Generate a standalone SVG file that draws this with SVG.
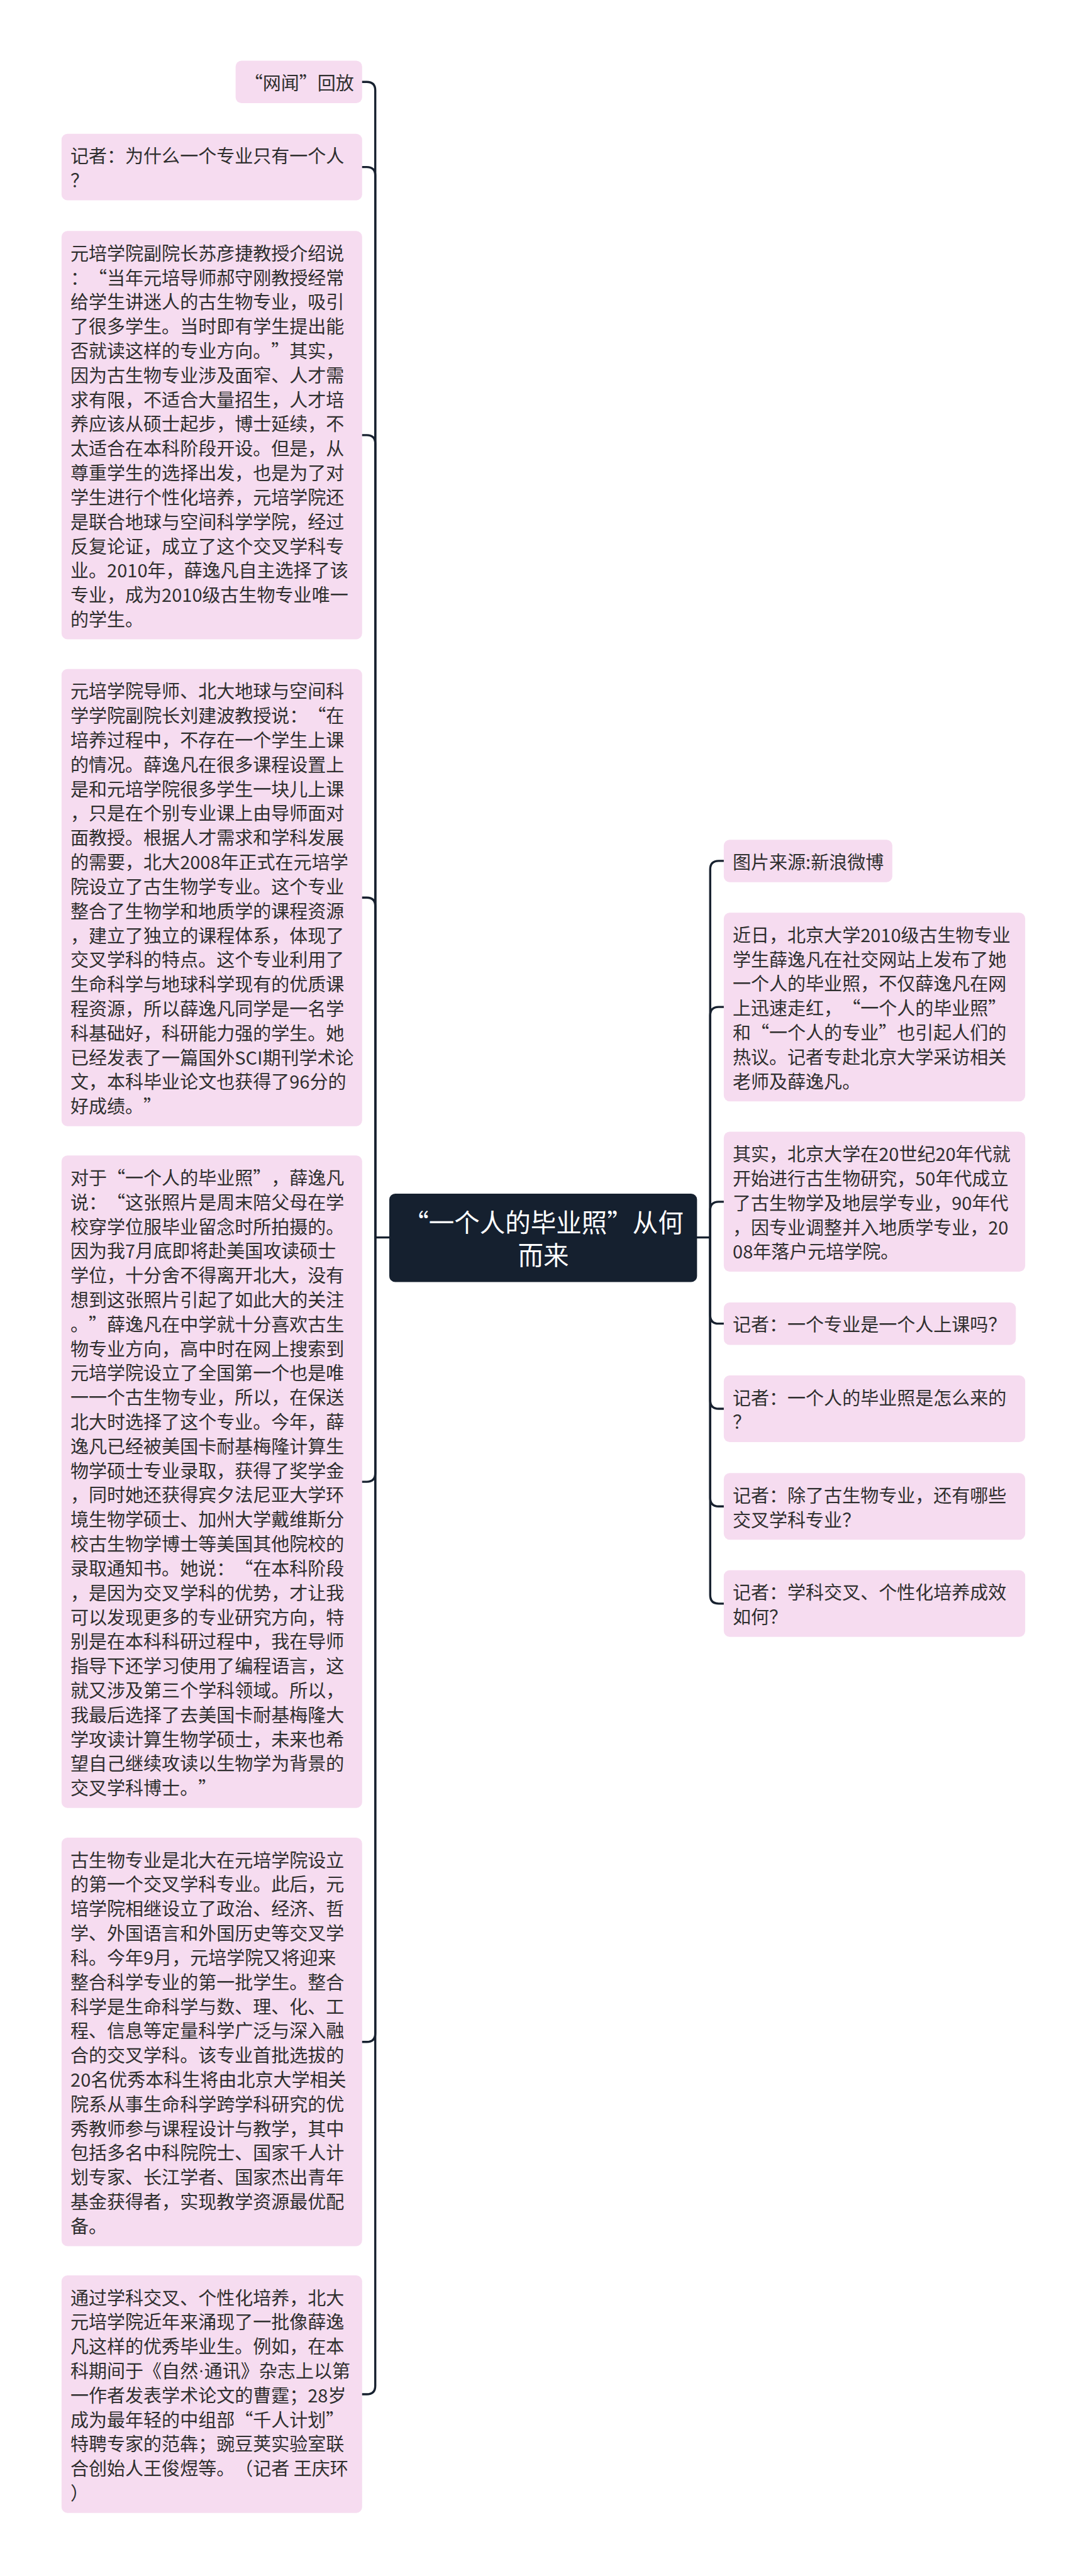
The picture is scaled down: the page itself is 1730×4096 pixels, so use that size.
<svg xmlns="http://www.w3.org/2000/svg" width="1730" height="4096" viewBox="0 0 1730 4096">
<style>
.nb{fill:#f6dcf0}
.t{font-family:"Noto Sans CJK SC","Noto Sans",sans-serif;font-size:43px;fill:#2f2f2f;dominant-baseline:central;text-spacing-trim:space-all}
.ct{font-family:"Noto Sans CJK SC","Noto Sans",sans-serif;font-size:60px;fill:#ffffff;dominant-baseline:central;text-anchor:middle;text-spacing-trim:space-all}
.q{font-feature-settings:"fwid" 1}
.d{font-family:"Liberation Sans",sans-serif}
.c{fill:none;stroke:#17212f;stroke-width:5;stroke-linecap:round}
</style>
<rect width="1730" height="4096" fill="#ffffff"/>
<g transform="scale(0.675)">
<g id="connectors">
<path class="c" d="M884,2915 H1673"/>
<path class="c" d="M853,193 H864 Q884,193 884,213 V2915"/>
<path class="c" d="M853,393.5 H864 Q884,393.5 884,413.5 V2915"/>
<path class="c" d="M853,1025 H864 Q884,1025 884,1045 V2915"/>
<path class="c" d="M853,2114.5 H864 Q884,2114.5 884,2134.5 V2915"/>
<path class="c" d="M853,3490.5 H864 Q884,3490.5 884,3470.5 V2915"/>
<path class="c" d="M853,4810 H864 Q884,4810 884,4790 V2915"/>
<path class="c" d="M853,5640 H864 Q884,5640 884,5620 V2915"/>
<path class="c" d="M1705,2028 H1693 Q1673,2028 1673,2048 V2915"/>
<path class="c" d="M1705,2372 H1693 Q1673,2372 1673,2392 V2915"/>
<path class="c" d="M1705,2831 H1693 Q1673,2831 1673,2851 V2915"/>
<path class="c" d="M1705,3118 H1693 Q1673,3118 1673,3098 V2915"/>
<path class="c" d="M1705,3318.5 H1693 Q1673,3318.5 1673,3298.5 V2915"/>
<path class="c" d="M1705,3548.5 H1693 Q1673,3548.5 1673,3528.5 V2915"/>
<path class="c" d="M1705,3777.5 H1693 Q1673,3777.5 1673,3757.5 V2915"/>
</g>
<g id="center">
<rect x="917" y="2812" width="725" height="208" rx="14" fill="#15202f"/>
<text class="ct" x="1280" y="2877"><tspan class="q">“</tspan>一个人的毕业照<tspan class="q">”</tspan>从何</text>
<text class="ct" x="1280" y="2954">而来</text>
</g>
<g id="n1">
<rect class="nb" x="555" y="143" width="298" height="100" rx="14"/>
<text class="t" x="576" y="192.75"><tspan class="q">“</tspan>网闻<tspan class="q">”</tspan>回放</text>
</g>
<g id="n2">
<rect class="nb" x="145" y="315" width="708" height="157" rx="14"/>
<text class="t" y="364.75"><tspan x="166">记者：为什么一个专业只有一个人</tspan><tspan x="166" dy="57.5">？</tspan></text>
</g>
<g id="n3">
<rect class="nb" x="145" y="544" width="708" height="962" rx="14"/>
<text class="t" y="593.75"><tspan x="166">元培学院副院长苏彦捷教授介绍说</tspan><tspan x="166" dy="57.5">：<tspan class="q">“</tspan>当年元培导师郝守刚教授经常</tspan><tspan x="166" dy="57.5">给学生讲迷人的古生物专业，吸引</tspan><tspan x="166" dy="57.5">了很多学生。当时即有学生提出能</tspan><tspan x="166" dy="57.5">否就读这样的专业方向。<tspan class="q">”</tspan>其实，</tspan><tspan x="166" dy="57.5">因为古生物专业涉及面窄、人才需</tspan><tspan x="166" dy="57.5">求有限，不适合大量招生，人才培</tspan><tspan x="166" dy="57.5">养应该从硕士起步，博士延续，不</tspan><tspan x="166" dy="57.5">太适合在本科阶段开设。但是，从</tspan><tspan x="166" dy="57.5">尊重学生的选择出发，也是为了对</tspan><tspan x="166" dy="57.5">学生进行个性化培养，元培学院还</tspan><tspan x="166" dy="57.5">是联合地球与空间科学学院，经过</tspan><tspan x="166" dy="57.5">反复论证，成立了这个交叉学科专</tspan><tspan x="166" dy="57.5">业。2010年，薛逸凡自主选择了该</tspan><tspan x="166" dy="57.5">专业，成为2010级古生物专业唯一</tspan><tspan x="166" dy="57.5">的学生。</tspan></text>
</g>
<g id="n4">
<rect class="nb" x="145" y="1576" width="708" height="1077" rx="14"/>
<text class="t" y="1625.75"><tspan x="166">元培学院导师、北大地球与空间科</tspan><tspan x="166" dy="57.5">学学院副院长刘建波教授说：<tspan class="q">“</tspan>在</tspan><tspan x="166" dy="57.5">培养过程中，不存在一个学生上课</tspan><tspan x="166" dy="57.5">的情况。薛逸凡在很多课程设置上</tspan><tspan x="166" dy="57.5">是和元培学院很多学生一块儿上课</tspan><tspan x="166" dy="57.5">，只是在个别专业课上由导师面对</tspan><tspan x="166" dy="57.5">面教授。根据人才需求和学科发展</tspan><tspan x="166" dy="57.5">的需要，北大2008年正式在元培学</tspan><tspan x="166" dy="57.5">院设立了古生物学专业。这个专业</tspan><tspan x="166" dy="57.5">整合了生物学和地质学的课程资源</tspan><tspan x="166" dy="57.5">，建立了独立的课程体系，体现了</tspan><tspan x="166" dy="57.5">交叉学科的特点。这个专业利用了</tspan><tspan x="166" dy="57.5">生命科学与地球科学现有的优质课</tspan><tspan x="166" dy="57.5">程资源，所以薛逸凡同学是一名学</tspan><tspan x="166" dy="57.5">科基础好，科研能力强的学生。她</tspan><tspan x="166" dy="57.5">已经发表了一篇国外SCI期刊学术论</tspan><tspan x="166" dy="57.5">文，本科毕业论文也获得了96分的</tspan><tspan x="166" dy="57.5">好成绩。<tspan class="q">”</tspan></tspan></text>
</g>
<g id="n5">
<rect class="nb" x="145" y="2722" width="708" height="1537" rx="14"/>
<text class="t" y="2771.75"><tspan x="166">对于<tspan class="q">“</tspan>一个人的毕业照<tspan class="q">”</tspan>，薛逸凡</tspan><tspan x="166" dy="57.5">说：<tspan class="q">“</tspan>这张照片是周末陪父母在学</tspan><tspan x="166" dy="57.5">校穿学位服毕业留念时所拍摄的。</tspan><tspan x="166" dy="57.5">因为我7月底即将赴美国攻读硕士</tspan><tspan x="166" dy="57.5">学位，十分舍不得离开北大，没有</tspan><tspan x="166" dy="57.5">想到这张照片引起了如此大的关注</tspan><tspan x="166" dy="57.5">。<tspan class="q">”</tspan>薛逸凡在中学就十分喜欢古生</tspan><tspan x="166" dy="57.5">物专业方向，高中时在网上搜索到</tspan><tspan x="166" dy="57.5">元培学院设立了全国第一个也是唯</tspan><tspan x="166" dy="57.5">一一个古生物专业，所以，在保送</tspan><tspan x="166" dy="57.5">北大时选择了这个专业。今年，薛</tspan><tspan x="166" dy="57.5">逸凡已经被美国卡耐基梅隆计算生</tspan><tspan x="166" dy="57.5">物学硕士专业录取，获得了奖学金</tspan><tspan x="166" dy="57.5">，同时她还获得宾夕法尼亚大学环</tspan><tspan x="166" dy="57.5">境生物学硕士、加州大学戴维斯分</tspan><tspan x="166" dy="57.5">校古生物学博士等美国其他院校的</tspan><tspan x="166" dy="57.5">录取通知书。她说：<tspan class="q">“</tspan>在本科阶段</tspan><tspan x="166" dy="57.5">，是因为交叉学科的优势，才让我</tspan><tspan x="166" dy="57.5">可以发现更多的专业研究方向，特</tspan><tspan x="166" dy="57.5">别是在本科科研过程中，我在导师</tspan><tspan x="166" dy="57.5">指导下还学习使用了编程语言，这</tspan><tspan x="166" dy="57.5">就又涉及第三个学科领域。所以，</tspan><tspan x="166" dy="57.5">我最后选择了去美国卡耐基梅隆大</tspan><tspan x="166" dy="57.5">学攻读计算生物学硕士，未来也希</tspan><tspan x="166" dy="57.5">望自己继续攻读以生物学为背景的</tspan><tspan x="166" dy="57.5">交叉学科博士。<tspan class="q">”</tspan></tspan></text>
</g>
<g id="n6">
<rect class="nb" x="145" y="4329" width="708" height="962" rx="14"/>
<text class="t" y="4378.75"><tspan x="166">古生物专业是北大在元培学院设立</tspan><tspan x="166" dy="57.5">的第一个交叉学科专业。此后，元</tspan><tspan x="166" dy="57.5">培学院相继设立了政治、经济、哲</tspan><tspan x="166" dy="57.5">学、外国语言和外国历史等交叉学</tspan><tspan x="166" dy="57.5">科。今年9月，元培学院又将迎来</tspan><tspan x="166" dy="57.5">整合科学专业的第一批学生。整合</tspan><tspan x="166" dy="57.5">科学是生命科学与数、理、化、工</tspan><tspan x="166" dy="57.5">程、信息等定量科学广泛与深入融</tspan><tspan x="166" dy="57.5">合的交叉学科。该专业首批选拔的</tspan><tspan x="166" dy="57.5">20名优秀本科生将由北京大学相关</tspan><tspan x="166" dy="57.5">院系从事生命科学跨学科研究的优</tspan><tspan x="166" dy="57.5">秀教师参与课程设计与教学，其中</tspan><tspan x="166" dy="57.5">包括多名中科院院士、国家千人计</tspan><tspan x="166" dy="57.5">划专家、长江学者、国家杰出青年</tspan><tspan x="166" dy="57.5">基金获得者，实现教学资源最优配</tspan><tspan x="166" dy="57.5">备。</tspan></text>
</g>
<g id="n7">
<rect class="nb" x="145" y="5360" width="708" height="559.5" rx="14"/>
<text class="t" y="5409.75"><tspan x="166">通过学科交叉、个性化培养，北大</tspan><tspan x="166" dy="57.5">元培学院近年来涌现了一批像薛逸</tspan><tspan x="166" dy="57.5">凡这样的优秀毕业生。例如，在本</tspan><tspan x="166" dy="57.5">科期间于《自然<tspan class="d">·</tspan>通讯》杂志上以第</tspan><tspan x="166" dy="57.5">一作者发表学术论文的曹霆；28岁</tspan><tspan x="166" dy="57.5">成为最年轻的中组部<tspan class="q">“</tspan>千人计划<tspan class="q">”</tspan></tspan><tspan x="166" dy="57.5">特聘专家的范犇；豌豆荚实验室联</tspan><tspan x="166" dy="57.5">合创始人王俊煜等。（记者 王庆环</tspan><tspan x="166" dy="57.5">）</tspan></text>
</g>
<g id="r1">
<rect class="nb" x="1705" y="1978" width="397" height="100" rx="14"/>
<text class="t" x="1726" y="2027.75">图片来源:新浪微博</text>
</g>
<g id="r2">
<rect class="nb" x="1705" y="2150" width="710" height="444.5" rx="14"/>
<text class="t" y="2199.75"><tspan x="1726">近日，北京大学2010级古生物专业</tspan><tspan x="1726" dy="57.5">学生薛逸凡在社交网站上发布了她</tspan><tspan x="1726" dy="57.5">一个人的毕业照，不仅薛逸凡在网</tspan><tspan x="1726" dy="57.5">上迅速走红，<tspan class="q">“</tspan>一个人的毕业照<tspan class="q">”</tspan></tspan><tspan x="1726" dy="57.5">和<tspan class="q">“</tspan>一个人的专业<tspan class="q">”</tspan>也引起人们的</tspan><tspan x="1726" dy="57.5">热议。记者专赴北京大学采访相关</tspan><tspan x="1726" dy="57.5">老师及薛逸凡。</tspan></text>
</g>
<g id="r3">
<rect class="nb" x="1705" y="2666" width="710" height="329.5" rx="14"/>
<text class="t" y="2715.75"><tspan x="1726">其实，北京大学在20世纪20年代就</tspan><tspan x="1726" dy="57.5">开始进行古生物研究，50年代成立</tspan><tspan x="1726" dy="57.5">了古生物学及地层学专业，90年代</tspan><tspan x="1726" dy="57.5">，因专业调整并入地质学专业，20</tspan><tspan x="1726" dy="57.5">08年落户元培学院。</tspan></text>
</g>
<g id="r4">
<rect class="nb" x="1705" y="3068" width="688" height="100" rx="14"/>
<text class="t" x="1726" y="3117.75">记者：一个专业是一个人上课吗？</text>
</g>
<g id="r5">
<rect class="nb" x="1705" y="3240" width="710" height="157" rx="14"/>
<text class="t" y="3289.75"><tspan x="1726">记者：一个人的毕业照是怎么来的</tspan><tspan x="1726" dy="57.5">？</tspan></text>
</g>
<g id="r6">
<rect class="nb" x="1705" y="3470" width="710" height="157" rx="14"/>
<text class="t" y="3519.75"><tspan x="1726">记者：除了古生物专业，还有哪些</tspan><tspan x="1726" dy="57.5">交叉学科专业？</tspan></text>
</g>
<g id="r7">
<rect class="nb" x="1705" y="3699" width="710" height="157" rx="14"/>
<text class="t" y="3748.75"><tspan x="1726">记者：学科交叉、个性化培养成效</tspan><tspan x="1726" dy="57.5">如何？</tspan></text>
</g>
</g>
</svg>
